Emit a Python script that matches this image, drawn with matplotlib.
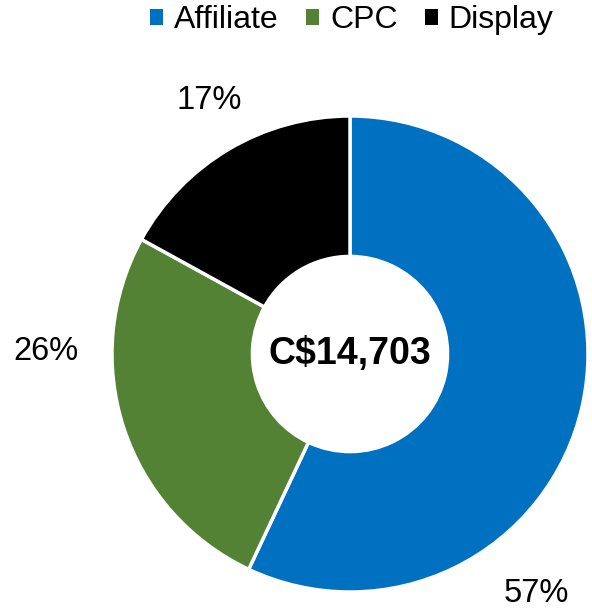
import matplotlib
matplotlib.use("Agg")
import matplotlib.pyplot as plt
from matplotlib.patches import Patch

plt.rcParams['font.family'] = ['Liberation Sans', 'DejaVu Sans']

categories = ["Affiliate", "CPC", "Display"]
shares = [57, 26, 17]
colors = ["#0070C0", "#548235", "#000000"]
total_label = "C$14,703"

W, H = 592, 608
fig = plt.figure(figsize=(W / 100, H / 100), dpi=100)
cx, cy, R = 350, 354, 238
ax = fig.add_axes([(cx - R) / W, (H - cy - R) / H, 2 * R / W, 2 * R / H])

wedges, _ = ax.pie(shares, colors=colors, startangle=90, counterclock=False,
                   radius=1, wedgeprops=dict(width=0.59, edgecolor='white', linewidth=2.5))
ax.set_xlim(-1, 1)
ax.set_ylim(-1, 1)
ax.set_aspect('equal')
ax.axis('off')

# label positions (pixel coords from reference)
label_pos = [(536, 593), (46, 352), (209, 100)]
for (px, py), v in zip(label_pos, shares):
    ax.text((px - cx) / R, (cy - py) / R, f"{v}%", ha='center', va='center',
            fontsize=23.5, color='black', clip_on=False)

ax.text(0, 0, total_label, ha='center', va='center', fontsize=27, fontweight='bold')

handles = [Patch(facecolor=c, edgecolor='none') for c in colors]
fig.legend(handles, categories, loc='center', bbox_to_anchor=(352 / W, 1 - 20 / H),
           ncol=3, frameon=False, fontsize=23, handlelength=0.4, handleheight=0.4,
           handletextpad=0.35, columnspacing=0.85)

fig.savefig("out.png", dpi=100)
